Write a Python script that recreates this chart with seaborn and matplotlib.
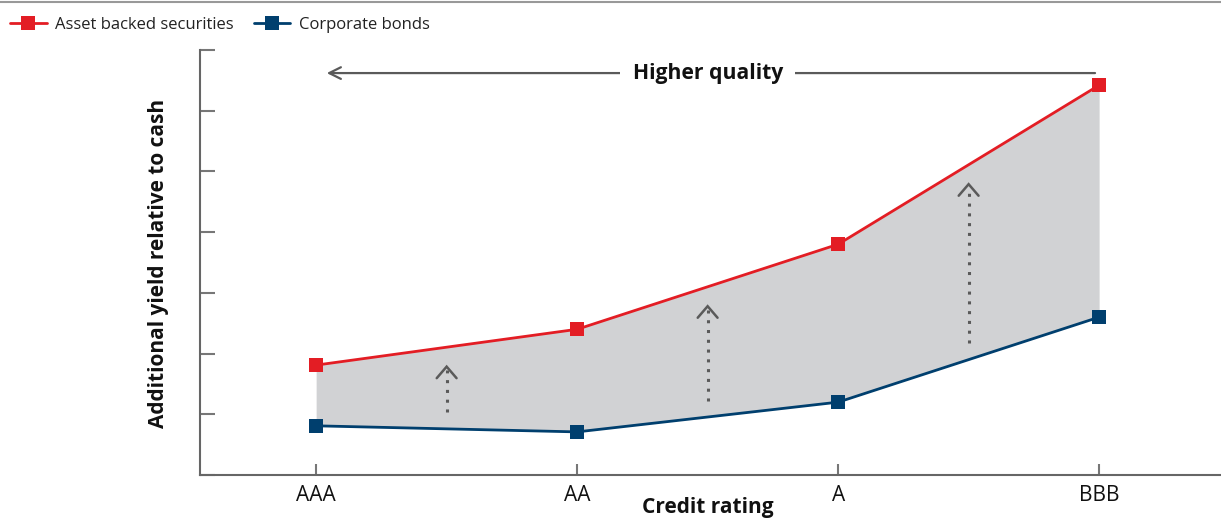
import matplotlib
matplotlib.use("Agg")
import matplotlib.pyplot as plt
from matplotlib.lines import Line2D
import seaborn as sns
import pandas as pd

categories = ["AAA", "AA", "A", "BBB"]
abs_values = [1.81, 2.40, 3.80, 6.42]
corp_values = [0.81, 0.71, 1.20, 2.60]
series_names = ["Asset backed securities", "Corporate bonds"]
arrow_label = "Higher quality"
y_label = "Additional yield relative to cash"
x_label = "Credit rating"

RED = "#e31d24"
BLUE = "#003f6e"
GRAY = "#5a5a5a"
FILL = "#d1d2d4"

sns.set_theme(style="white")
plt.rcParams["font.family"] = ["Open Sans", "DejaVu Sans"]

fig = plt.figure(figsize=(12.21, 5.19), dpi=100)
W, H = 1221, 519
ax = fig.add_axes([200 / W, 1 - 475 / H, 1 - 200 / W, (475 - 50) / H])

df = pd.DataFrame({"x": list(range(len(categories))), "abs": abs_values, "corp": corp_values})

ax.fill_between(df["x"], df["corp"], df["abs"], color=FILL, linewidth=0, zorder=1)
sns.lineplot(data=df, x="x", y="abs", ax=ax, color=RED, linewidth=2, marker="s",
             markersize=10, markeredgewidth=0, zorder=3)
sns.lineplot(data=df, x="x", y="corp", ax=ax, color=BLUE, linewidth=2, marker="s",
             markersize=10, markeredgewidth=0, zorder=3)

# dotted arrows between midpoints
for i in range(len(categories) - 1):
    xm = i + 0.5
    lo = (corp_values[i] + corp_values[i + 1]) / 2 + 0.27
    hi = (abs_values[i] + abs_values[i + 1]) / 2 - 0.32
    ax.plot([xm, xm], [lo, hi - 0.06], color=GRAY, linestyle=(0, (1, 2.2)), linewidth=2.2, zorder=2)
    ax.plot([xm - 0.038, xm, xm + 0.038], [hi - 0.19, hi, hi - 0.19], color=GRAY,
            linewidth=1.8, zorder=2, solid_joinstyle="miter")

# Higher quality arrow
yq = 6.62
ax.annotate("", xy=(0.03, yq), xytext=(2.995, yq),
            arrowprops=dict(arrowstyle="->,head_length=0.7,head_width=0.35", color=GRAY, lw=1.6))
ax.text(1.5, yq, arrow_label, ha="center", va="center", fontsize=15.2, fontweight="bold",
        color="#111111", bbox=dict(facecolor="white", edgecolor="none", pad=9), zorder=4)

ax.set_xlim(-0.445, 3.467)
ax.set_ylim(0, 7)
ax.set_xticks(range(len(categories)))
ax.set_xticklabels(categories)
ax.set_yticks(range(0, 8))
ax.set_yticklabels([])
ax.tick_params(axis="x", direction="in", length=8, width=1.5, color="#777777", pad=7,
               labelsize=15, labelcolor="#111111")
ax.tick_params(axis="y", direction="in", length=11, width=1.5, color="#777777")
ax.tick_params(bottom=True, left=True)

for s in ["top", "right"]:
    ax.spines[s].set_visible(False)
for s in ["left", "bottom"]:
    ax.spines[s].set_color("#666666")
    ax.spines[s].set_linewidth(1.5)

ax.set_ylabel(y_label, fontsize=15, fontweight="bold", color="#111111")
ax.yaxis.set_label_coords(-(200 - 169) / 1021, 0.497)
ax.set_xlabel(x_label, fontsize=15, fontweight="bold", color="#111111")
ax.xaxis.set_label_coords(0.4976, -(497 - 475) / 425)

# legend
handles = [Line2D([], [], color=RED, linewidth=2, marker="s", markersize=10, markeredgewidth=0),
           Line2D([], [], color=BLUE, linewidth=2, marker="s", markersize=10, markeredgewidth=0)]
fig.legend(handles, series_names, loc="upper left", bbox_to_anchor=(-0.0055, 1.0), ncol=2,
           frameon=False, fontsize=12, handlelength=2.2, handletextpad=0.5, columnspacing=1.2,
           labelcolor="#222222", borderaxespad=0.6)

fig.add_artist(Line2D([0, 1], [1 - 1.5 / H, 1 - 1.5 / H], transform=fig.transFigure,
                      color="#999999", linewidth=1.5))

fig.savefig("out.png", dpi=100)
